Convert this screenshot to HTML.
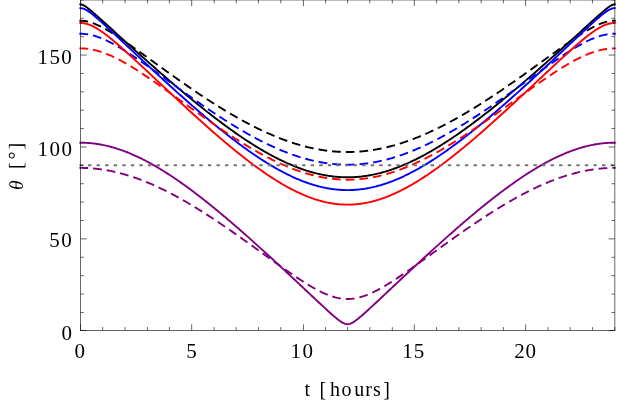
<!DOCTYPE html>
<html><head><meta charset="utf-8"><title>plot</title>
<style>
html,body{margin:0;padding:0;background:#fff;}
body{width:617px;height:403px;overflow:hidden;position:relative;}
svg{position:absolute;left:0;top:0;display:block;will-change:transform;}
text{font-family:"Liberation Serif",serif;font-size:21px;letter-spacing:0;fill:#000;}
text.lab{font-size:20px;letter-spacing:0;}
</style></head><body>
<svg width="617" height="403" viewBox="0 0 617 403">
<rect width="617" height="403" fill="#fff"/>
<g fill="none" stroke-linejoin="round">
<path d="M80.35,4.40 L81.46,4.52 L82.58,4.86 L83.69,5.38 L84.80,6.03 L85.92,6.78 L87.03,7.59 L88.14,8.45 L89.26,9.34 L90.37,10.26 L91.48,11.20 L92.60,12.15 L93.71,13.11 L94.82,14.08 L95.94,15.06 L97.05,16.04 L98.16,17.03 L99.28,18.02 L100.39,19.02 L101.50,20.02 L102.61,21.02 L103.73,22.02 L104.84,23.03 L105.95,24.03 L107.07,25.04 L108.18,26.04 L109.29,27.05 L110.41,28.06 L111.52,29.07 L112.63,30.07 L113.75,31.08 L114.86,32.09 L115.97,33.10 L117.09,34.11 L118.20,35.12 L119.31,36.13 L120.43,37.13 L121.54,38.14 L122.65,39.15 L123.77,40.16 L124.88,41.16 L125.99,42.17 L127.11,43.17 L128.22,44.18 L129.33,45.18 L130.45,46.18 L131.56,47.19 L132.67,48.19 L133.79,49.19 L134.90,50.19 L136.01,51.19 L137.13,52.19 L138.24,53.18 L139.35,54.18 L140.47,55.18 L141.58,56.17 L142.69,57.16 L143.81,58.16 L144.92,59.15 L146.03,60.14 L147.14,61.13 L148.26,62.11 L149.37,63.10 L150.48,64.09 L151.60,65.07 L152.71,66.05 L153.82,67.03 L154.94,68.01 L156.05,68.99 L157.16,69.97 L158.28,70.94 L159.39,71.92 L160.50,72.89 L161.62,73.86 L162.73,74.83 L163.84,75.80 L164.96,76.76 L166.07,77.73 L167.18,78.69 L168.30,79.65 L169.41,80.61 L170.52,81.56 L171.64,82.52 L172.75,83.47 L173.86,84.42 L174.98,85.37 L176.09,86.32 L177.20,87.26 L178.32,88.21 L179.43,89.15 L180.54,90.09 L181.66,91.02 L182.77,91.96 L183.88,92.89 L185.00,93.82 L186.11,94.75 L187.22,95.67 L188.34,96.60 L189.45,97.52 L190.56,98.44 L191.68,99.35 L192.79,100.26 L193.90,101.17 L195.01,102.08 L196.13,102.99 L197.24,103.89 L198.35,104.79 L199.47,105.69 L200.58,106.58 L201.69,107.47 L202.81,108.36 L203.92,109.24 L205.03,110.13 L206.15,111.00 L207.26,111.88 L208.37,112.75 L209.49,113.62 L210.60,114.49 L211.71,115.35 L212.83,116.21 L213.94,117.07 L215.05,117.92 L216.17,118.77 L217.28,119.62 L218.39,120.46 L219.51,121.30 L220.62,122.13 L221.73,122.96 L222.85,123.79 L223.96,124.62 L225.07,125.44 L226.19,126.25 L227.30,127.06 L228.41,127.87 L229.53,128.67 L230.64,129.47 L231.75,130.27 L232.87,131.06 L233.98,131.85 L235.09,132.63 L236.21,133.41 L237.32,134.18 L238.43,134.95 L239.54,135.71 L240.66,136.47 L241.77,137.23 L242.88,137.98 L244.00,138.72 L245.11,139.46 L246.22,140.20 L247.34,140.93 L248.45,141.65 L249.56,142.37 L250.68,143.09 L251.79,143.80 L252.90,144.50 L254.02,145.20 L255.13,145.89 L256.24,146.58 L257.36,147.26 L258.47,147.93 L259.58,148.60 L260.70,149.27 L261.81,149.93 L262.92,150.58 L264.04,151.22 L265.15,151.86 L266.26,152.50 L267.38,153.12 L268.49,153.74 L269.60,154.36 L270.72,154.97 L271.83,155.57 L272.94,156.16 L274.06,156.75 L275.17,157.33 L276.28,157.91 L277.40,158.47 L278.51,159.03 L279.62,159.59 L280.74,160.13 L281.85,160.67 L282.96,161.20 L284.07,161.73 L285.19,162.24 L286.30,162.75 L287.41,163.25 L288.53,163.75 L289.64,164.23 L290.75,164.71 L291.87,165.18 L292.98,165.64 L294.09,166.10 L295.21,166.54 L296.32,166.98 L297.43,167.41 L298.55,167.83 L299.66,168.25 L300.77,168.65 L301.89,169.05 L303.00,169.44 L304.11,169.81 L305.23,170.18 L306.34,170.55 L307.45,170.90 L308.57,171.24 L309.68,171.58 L310.79,171.90 L311.91,172.22 L313.02,172.53 L314.13,172.83 L315.25,173.12 L316.36,173.40 L317.47,173.67 L318.59,173.93 L319.70,174.18 L320.81,174.42 L321.93,174.65 L323.04,174.88 L324.15,175.09 L325.26,175.30 L326.38,175.49 L327.49,175.67 L328.60,175.85 L329.72,176.01 L330.83,176.17 L331.94,176.31 L333.06,176.45 L334.17,176.58 L335.28,176.69 L336.40,176.80 L337.51,176.89 L338.62,176.98 L339.74,177.05 L340.85,177.12 L341.96,177.17 L343.08,177.22 L344.19,177.25 L345.30,177.28 L346.42,177.29 L347.53,177.30 L348.64,177.29 L349.76,177.28 L350.87,177.25 L351.98,177.22 L353.10,177.17 L354.21,177.12 L355.32,177.05 L356.44,176.98 L357.55,176.89 L358.66,176.80 L359.78,176.69 L360.89,176.58 L362.00,176.45 L363.12,176.31 L364.23,176.17 L365.34,176.01 L366.46,175.85 L367.57,175.67 L368.68,175.49 L369.79,175.30 L370.91,175.09 L372.02,174.88 L373.13,174.65 L374.25,174.42 L375.36,174.18 L376.47,173.93 L377.59,173.67 L378.70,173.40 L379.81,173.12 L380.93,172.83 L382.04,172.53 L383.15,172.22 L384.27,171.90 L385.38,171.58 L386.49,171.24 L387.61,170.90 L388.72,170.55 L389.83,170.18 L390.95,169.81 L392.06,169.44 L393.17,169.05 L394.29,168.65 L395.40,168.25 L396.51,167.83 L397.63,167.41 L398.74,166.98 L399.85,166.54 L400.97,166.10 L402.08,165.64 L403.19,165.18 L404.31,164.71 L405.42,164.23 L406.53,163.75 L407.65,163.25 L408.76,162.75 L409.87,162.24 L410.99,161.73 L412.10,161.20 L413.21,160.67 L414.33,160.13 L415.44,159.59 L416.55,159.03 L417.66,158.47 L418.78,157.91 L419.89,157.33 L421.00,156.75 L422.12,156.16 L423.23,155.57 L424.34,154.97 L425.46,154.36 L426.57,153.74 L427.68,153.12 L428.80,152.50 L429.91,151.86 L431.02,151.22 L432.14,150.58 L433.25,149.93 L434.36,149.27 L435.48,148.60 L436.59,147.93 L437.70,147.26 L438.82,146.58 L439.93,145.89 L441.04,145.20 L442.16,144.50 L443.27,143.80 L444.38,143.09 L445.50,142.37 L446.61,141.65 L447.72,140.93 L448.84,140.20 L449.95,139.46 L451.06,138.72 L452.18,137.98 L453.29,137.23 L454.40,136.47 L455.52,135.71 L456.63,134.95 L457.74,134.18 L458.86,133.41 L459.97,132.63 L461.08,131.85 L462.19,131.06 L463.31,130.27 L464.42,129.47 L465.53,128.67 L466.65,127.87 L467.76,127.06 L468.87,126.25 L469.99,125.44 L471.10,124.62 L472.21,123.79 L473.33,122.96 L474.44,122.13 L475.55,121.30 L476.67,120.46 L477.78,119.62 L478.89,118.77 L480.01,117.92 L481.12,117.07 L482.23,116.21 L483.35,115.35 L484.46,114.49 L485.57,113.62 L486.69,112.75 L487.80,111.88 L488.91,111.00 L490.03,110.13 L491.14,109.24 L492.25,108.36 L493.37,107.47 L494.48,106.58 L495.59,105.69 L496.71,104.79 L497.82,103.89 L498.93,102.99 L500.05,102.08 L501.16,101.17 L502.27,100.26 L503.38,99.35 L504.50,98.44 L505.61,97.52 L506.72,96.60 L507.84,95.67 L508.95,94.75 L510.06,93.82 L511.18,92.89 L512.29,91.96 L513.40,91.02 L514.52,90.09 L515.63,89.15 L516.74,88.21 L517.86,87.26 L518.97,86.32 L520.08,85.37 L521.20,84.42 L522.31,83.47 L523.42,82.52 L524.54,81.56 L525.65,80.61 L526.76,79.65 L527.88,78.69 L528.99,77.73 L530.10,76.76 L531.22,75.80 L532.33,74.83 L533.44,73.86 L534.56,72.89 L535.67,71.92 L536.78,70.94 L537.90,69.97 L539.01,68.99 L540.12,68.01 L541.24,67.03 L542.35,66.05 L543.46,65.07 L544.58,64.09 L545.69,63.10 L546.80,62.11 L547.91,61.13 L549.03,60.14 L550.14,59.15 L551.25,58.16 L552.37,57.16 L553.48,56.17 L554.59,55.18 L555.71,54.18 L556.82,53.18 L557.93,52.19 L559.05,51.19 L560.16,50.19 L561.27,49.19 L562.39,48.19 L563.50,47.19 L564.61,46.18 L565.73,45.18 L566.84,44.18 L567.95,43.17 L569.07,42.17 L570.18,41.16 L571.29,40.16 L572.41,39.15 L573.52,38.14 L574.63,37.13 L575.75,36.13 L576.86,35.12 L577.97,34.11 L579.09,33.10 L580.20,32.09 L581.31,31.08 L582.43,30.07 L583.54,29.07 L584.65,28.06 L585.77,27.05 L586.88,26.04 L587.99,25.04 L589.11,24.03 L590.22,23.03 L591.33,22.02 L592.45,21.02 L593.56,20.02 L594.67,19.02 L595.78,18.02 L596.90,17.03 L598.01,16.04 L599.12,15.06 L600.24,14.08 L601.35,13.11 L602.46,12.15 L603.58,11.20 L604.69,10.26 L605.80,9.34 L606.92,8.45 L608.03,7.59 L609.14,6.78 L610.26,6.03 L611.37,5.38 L612.48,4.86 L613.60,4.52 L614.71,4.40" stroke="#000000" stroke-width="1.9" stroke-linecap="square"/>
<path d="M80.35,20.75 L81.46,20.77 L82.58,20.83 L83.69,20.93 L84.80,21.06 L85.92,21.24 L87.03,21.45 L88.14,21.69 L89.26,21.97 L90.37,22.29 L91.48,22.63 L92.60,23.01 L93.71,23.41 L94.82,23.84 L95.94,24.30 L97.05,24.78 L98.16,25.28 L99.28,25.81 L100.39,26.36 L101.50,26.92 L102.61,27.50 L103.73,28.10 L104.84,28.71 L105.95,29.34 L107.07,29.98 L108.18,30.64 L109.29,31.30 L110.41,31.98 L111.52,32.66 L112.63,33.36 L113.75,34.06 L114.86,34.78 L115.97,35.50 L117.09,36.22 L118.20,36.96 L119.31,37.70 L120.43,38.44 L121.54,39.20 L122.65,39.95 L123.77,40.71 L124.88,41.48 L125.99,42.25 L127.11,43.02 L128.22,43.79 L129.33,44.57 L130.45,45.35 L131.56,46.14 L132.67,46.93 L133.79,47.72 L134.90,48.51 L136.01,49.30 L137.13,50.09 L138.24,50.89 L139.35,51.69 L140.47,52.49 L141.58,53.29 L142.69,54.09 L143.81,54.89 L144.92,55.69 L146.03,56.50 L147.14,57.30 L148.26,58.10 L149.37,58.91 L150.48,59.71 L151.60,60.52 L152.71,61.32 L153.82,62.13 L154.94,62.93 L156.05,63.73 L157.16,64.54 L158.28,65.34 L159.39,66.14 L160.50,66.94 L161.62,67.75 L162.73,68.55 L163.84,69.35 L164.96,70.15 L166.07,70.94 L167.18,71.74 L168.30,72.54 L169.41,73.33 L170.52,74.13 L171.64,74.92 L172.75,75.71 L173.86,76.50 L174.98,77.29 L176.09,78.08 L177.20,78.86 L178.32,79.64 L179.43,80.43 L180.54,81.21 L181.66,81.99 L182.77,82.76 L183.88,83.54 L185.00,84.31 L186.11,85.09 L187.22,85.85 L188.34,86.62 L189.45,87.39 L190.56,88.15 L191.68,88.91 L192.79,89.67 L193.90,90.43 L195.01,91.18 L196.13,91.94 L197.24,92.69 L198.35,93.43 L199.47,94.18 L200.58,94.92 L201.69,95.66 L202.81,96.40 L203.92,97.13 L205.03,97.86 L206.15,98.59 L207.26,99.32 L208.37,100.04 L209.49,100.76 L210.60,101.48 L211.71,102.19 L212.83,102.90 L213.94,103.61 L215.05,104.32 L216.17,105.02 L217.28,105.72 L218.39,106.41 L219.51,107.10 L220.62,107.79 L221.73,108.48 L222.85,109.16 L223.96,109.84 L225.07,110.51 L226.19,111.18 L227.30,111.85 L228.41,112.51 L229.53,113.17 L230.64,113.83 L231.75,114.48 L232.87,115.13 L233.98,115.77 L235.09,116.41 L236.21,117.05 L237.32,117.68 L238.43,118.31 L239.54,118.93 L240.66,119.55 L241.77,120.16 L242.88,120.78 L244.00,121.38 L245.11,121.98 L246.22,122.58 L247.34,123.17 L248.45,123.76 L249.56,124.34 L250.68,124.92 L251.79,125.50 L252.90,126.07 L254.02,126.63 L255.13,127.19 L256.24,127.74 L257.36,128.29 L258.47,128.84 L259.58,129.38 L260.70,129.91 L261.81,130.44 L262.92,130.96 L264.04,131.48 L265.15,131.99 L266.26,132.50 L267.38,133.00 L268.49,133.50 L269.60,133.99 L270.72,134.48 L271.83,134.96 L272.94,135.43 L274.06,135.90 L275.17,136.36 L276.28,136.82 L277.40,137.27 L278.51,137.71 L279.62,138.15 L280.74,138.59 L281.85,139.01 L282.96,139.43 L284.07,139.85 L285.19,140.26 L286.30,140.66 L287.41,141.05 L288.53,141.44 L289.64,141.83 L290.75,142.20 L291.87,142.57 L292.98,142.94 L294.09,143.29 L295.21,143.64 L296.32,143.99 L297.43,144.32 L298.55,144.65 L299.66,144.98 L300.77,145.29 L301.89,145.60 L303.00,145.90 L304.11,146.20 L305.23,146.49 L306.34,146.77 L307.45,147.05 L308.57,147.31 L309.68,147.57 L310.79,147.83 L311.91,148.07 L313.02,148.31 L314.13,148.54 L315.25,148.77 L316.36,148.99 L317.47,149.19 L318.59,149.40 L319.70,149.59 L320.81,149.78 L321.93,149.96 L323.04,150.13 L324.15,150.30 L325.26,150.45 L326.38,150.60 L327.49,150.75 L328.60,150.88 L329.72,151.01 L330.83,151.13 L331.94,151.24 L333.06,151.35 L334.17,151.44 L335.28,151.53 L336.40,151.61 L337.51,151.69 L338.62,151.75 L339.74,151.81 L340.85,151.86 L341.96,151.90 L343.08,151.94 L344.19,151.97 L345.30,151.98 L346.42,152.00 L347.53,152.00 L348.64,152.00 L349.76,151.98 L350.87,151.97 L351.98,151.94 L353.10,151.90 L354.21,151.86 L355.32,151.81 L356.44,151.75 L357.55,151.69 L358.66,151.61 L359.78,151.53 L360.89,151.44 L362.00,151.35 L363.12,151.24 L364.23,151.13 L365.34,151.01 L366.46,150.88 L367.57,150.75 L368.68,150.60 L369.79,150.45 L370.91,150.30 L372.02,150.13 L373.13,149.96 L374.25,149.78 L375.36,149.59 L376.47,149.40 L377.59,149.19 L378.70,148.99 L379.81,148.77 L380.93,148.54 L382.04,148.31 L383.15,148.07 L384.27,147.83 L385.38,147.57 L386.49,147.31 L387.61,147.05 L388.72,146.77 L389.83,146.49 L390.95,146.20 L392.06,145.90 L393.17,145.60 L394.29,145.29 L395.40,144.98 L396.51,144.65 L397.63,144.32 L398.74,143.99 L399.85,143.64 L400.97,143.29 L402.08,142.94 L403.19,142.57 L404.31,142.20 L405.42,141.83 L406.53,141.44 L407.65,141.05 L408.76,140.66 L409.87,140.26 L410.99,139.85 L412.10,139.43 L413.21,139.01 L414.33,138.59 L415.44,138.15 L416.55,137.71 L417.66,137.27 L418.78,136.82 L419.89,136.36 L421.00,135.90 L422.12,135.43 L423.23,134.96 L424.34,134.48 L425.46,133.99 L426.57,133.50 L427.68,133.00 L428.80,132.50 L429.91,131.99 L431.02,131.48 L432.14,130.96 L433.25,130.44 L434.36,129.91 L435.48,129.38 L436.59,128.84 L437.70,128.29 L438.82,127.74 L439.93,127.19 L441.04,126.63 L442.16,126.07 L443.27,125.50 L444.38,124.92 L445.50,124.34 L446.61,123.76 L447.72,123.17 L448.84,122.58 L449.95,121.98 L451.06,121.38 L452.18,120.78 L453.29,120.16 L454.40,119.55 L455.52,118.93 L456.63,118.31 L457.74,117.68 L458.86,117.05 L459.97,116.41 L461.08,115.77 L462.19,115.13 L463.31,114.48 L464.42,113.83 L465.53,113.17 L466.65,112.51 L467.76,111.85 L468.87,111.18 L469.99,110.51 L471.10,109.84 L472.21,109.16 L473.33,108.48 L474.44,107.79 L475.55,107.10 L476.67,106.41 L477.78,105.72 L478.89,105.02 L480.01,104.32 L481.12,103.61 L482.23,102.90 L483.35,102.19 L484.46,101.48 L485.57,100.76 L486.69,100.04 L487.80,99.32 L488.91,98.59 L490.03,97.86 L491.14,97.13 L492.25,96.40 L493.37,95.66 L494.48,94.92 L495.59,94.18 L496.71,93.43 L497.82,92.69 L498.93,91.94 L500.05,91.18 L501.16,90.43 L502.27,89.67 L503.38,88.91 L504.50,88.15 L505.61,87.39 L506.72,86.62 L507.84,85.85 L508.95,85.09 L510.06,84.31 L511.18,83.54 L512.29,82.76 L513.40,81.99 L514.52,81.21 L515.63,80.43 L516.74,79.64 L517.86,78.86 L518.97,78.08 L520.08,77.29 L521.20,76.50 L522.31,75.71 L523.42,74.92 L524.54,74.13 L525.65,73.33 L526.76,72.54 L527.88,71.74 L528.99,70.94 L530.10,70.15 L531.22,69.35 L532.33,68.55 L533.44,67.75 L534.56,66.94 L535.67,66.14 L536.78,65.34 L537.90,64.54 L539.01,63.73 L540.12,62.93 L541.24,62.13 L542.35,61.32 L543.46,60.52 L544.58,59.71 L545.69,58.91 L546.80,58.10 L547.91,57.30 L549.03,56.50 L550.14,55.69 L551.25,54.89 L552.37,54.09 L553.48,53.29 L554.59,52.49 L555.71,51.69 L556.82,50.89 L557.93,50.09 L559.05,49.30 L560.16,48.51 L561.27,47.72 L562.39,46.93 L563.50,46.14 L564.61,45.35 L565.73,44.57 L566.84,43.79 L567.95,43.02 L569.07,42.25 L570.18,41.48 L571.29,40.71 L572.41,39.95 L573.52,39.20 L574.63,38.44 L575.75,37.70 L576.86,36.96 L577.97,36.22 L579.09,35.50 L580.20,34.78 L581.31,34.06 L582.43,33.36 L583.54,32.66 L584.65,31.98 L585.77,31.30 L586.88,30.64 L587.99,29.98 L589.11,29.34 L590.22,28.71 L591.33,28.10 L592.45,27.50 L593.56,26.92 L594.67,26.36 L595.78,25.81 L596.90,25.28 L598.01,24.78 L599.12,24.30 L600.24,23.84 L601.35,23.41 L602.46,23.01 L603.58,22.63 L604.69,22.29 L605.80,21.97 L606.92,21.69 L608.03,21.45 L609.14,21.24 L610.26,21.06 L611.37,20.93 L612.48,20.83 L613.60,20.77 L614.71,20.75" stroke="#000000" stroke-width="1.9" stroke-dasharray="6.85 6.86" stroke-linecap="square"/>
<path d="M80.35,8.15 L81.46,8.22 L82.58,8.43 L83.69,8.77 L84.80,9.23 L85.92,9.78 L87.03,10.42 L88.14,11.13 L89.26,11.89 L90.37,12.70 L91.48,13.55 L92.60,14.43 L93.71,15.33 L94.82,16.26 L95.94,17.20 L97.05,18.16 L98.16,19.13 L99.28,20.11 L100.39,21.10 L101.50,22.10 L102.61,23.10 L103.73,24.12 L104.84,25.13 L105.95,26.15 L107.07,27.18 L108.18,28.21 L109.29,29.24 L110.41,30.27 L111.52,31.31 L112.63,32.35 L113.75,33.39 L114.86,34.43 L115.97,35.47 L117.09,36.51 L118.20,37.56 L119.31,38.60 L120.43,39.65 L121.54,40.70 L122.65,41.75 L123.77,42.79 L124.88,43.84 L125.99,44.89 L127.11,45.94 L128.22,46.99 L129.33,48.03 L130.45,49.08 L131.56,50.13 L132.67,51.18 L133.79,52.22 L134.90,53.27 L136.01,54.32 L137.13,55.36 L138.24,56.41 L139.35,57.45 L140.47,58.50 L141.58,59.54 L142.69,60.58 L143.81,61.62 L144.92,62.67 L146.03,63.71 L147.14,64.74 L148.26,65.78 L149.37,66.82 L150.48,67.86 L151.60,68.89 L152.71,69.93 L153.82,70.96 L154.94,71.99 L156.05,73.02 L157.16,74.05 L158.28,75.08 L159.39,76.11 L160.50,77.13 L161.62,78.16 L162.73,79.18 L163.84,80.20 L164.96,81.22 L166.07,82.24 L167.18,83.26 L168.30,84.27 L169.41,85.29 L170.52,86.30 L171.64,87.31 L172.75,88.32 L173.86,89.33 L174.98,90.33 L176.09,91.34 L177.20,92.34 L178.32,93.34 L179.43,94.34 L180.54,95.33 L181.66,96.33 L182.77,97.32 L183.88,98.31 L185.00,99.30 L186.11,100.28 L187.22,101.27 L188.34,102.25 L189.45,103.23 L190.56,104.20 L191.68,105.18 L192.79,106.15 L193.90,107.12 L195.01,108.09 L196.13,109.05 L197.24,110.01 L198.35,110.97 L199.47,111.93 L200.58,112.89 L201.69,113.84 L202.81,114.79 L203.92,115.73 L205.03,116.68 L206.15,117.62 L207.26,118.55 L208.37,119.49 L209.49,120.42 L210.60,121.35 L211.71,122.27 L212.83,123.19 L213.94,124.11 L215.05,125.03 L216.17,125.94 L217.28,126.85 L218.39,127.75 L219.51,128.65 L220.62,129.55 L221.73,130.44 L222.85,131.33 L223.96,132.22 L225.07,133.10 L226.19,133.98 L227.30,134.86 L228.41,135.73 L229.53,136.60 L230.64,137.46 L231.75,138.32 L232.87,139.17 L233.98,140.02 L235.09,140.87 L236.21,141.71 L237.32,142.55 L238.43,143.38 L239.54,144.21 L240.66,145.03 L241.77,145.85 L242.88,146.67 L244.00,147.47 L245.11,148.28 L246.22,149.08 L247.34,149.87 L248.45,150.66 L249.56,151.44 L250.68,152.22 L251.79,152.99 L252.90,153.76 L254.02,154.52 L255.13,155.28 L256.24,156.03 L257.36,156.77 L258.47,157.51 L259.58,158.25 L260.70,158.97 L261.81,159.69 L262.92,160.41 L264.04,161.11 L265.15,161.82 L266.26,162.51 L267.38,163.20 L268.49,163.88 L269.60,164.56 L270.72,165.23 L271.83,165.89 L272.94,166.54 L274.06,167.19 L275.17,167.83 L276.28,168.47 L277.40,169.09 L278.51,169.71 L279.62,170.32 L280.74,170.92 L281.85,171.52 L282.96,172.11 L284.07,172.69 L285.19,173.26 L286.30,173.83 L287.41,174.38 L288.53,174.93 L289.64,175.47 L290.75,176.00 L291.87,176.52 L292.98,177.04 L294.09,177.54 L295.21,178.04 L296.32,178.53 L297.43,179.01 L298.55,179.48 L299.66,179.94 L300.77,180.39 L301.89,180.83 L303.00,181.27 L304.11,181.69 L305.23,182.10 L306.34,182.51 L307.45,182.90 L308.57,183.29 L309.68,183.66 L310.79,184.03 L311.91,184.38 L313.02,184.73 L314.13,185.06 L315.25,185.39 L316.36,185.70 L317.47,186.01 L318.59,186.30 L319.70,186.58 L320.81,186.86 L321.93,187.12 L323.04,187.37 L324.15,187.61 L325.26,187.84 L326.38,188.06 L327.49,188.27 L328.60,188.46 L329.72,188.65 L330.83,188.82 L331.94,188.99 L333.06,189.14 L334.17,189.28 L335.28,189.41 L336.40,189.53 L337.51,189.64 L338.62,189.74 L339.74,189.82 L340.85,189.89 L341.96,189.96 L343.08,190.01 L344.19,190.05 L345.30,190.08 L346.42,190.09 L347.53,190.10 L348.64,190.09 L349.76,190.08 L350.87,190.05 L351.98,190.01 L353.10,189.96 L354.21,189.89 L355.32,189.82 L356.44,189.74 L357.55,189.64 L358.66,189.53 L359.78,189.41 L360.89,189.28 L362.00,189.14 L363.12,188.99 L364.23,188.82 L365.34,188.65 L366.46,188.46 L367.57,188.27 L368.68,188.06 L369.79,187.84 L370.91,187.61 L372.02,187.37 L373.13,187.12 L374.25,186.86 L375.36,186.58 L376.47,186.30 L377.59,186.01 L378.70,185.70 L379.81,185.39 L380.93,185.06 L382.04,184.73 L383.15,184.38 L384.27,184.03 L385.38,183.66 L386.49,183.29 L387.61,182.90 L388.72,182.51 L389.83,182.10 L390.95,181.69 L392.06,181.27 L393.17,180.83 L394.29,180.39 L395.40,179.94 L396.51,179.48 L397.63,179.01 L398.74,178.53 L399.85,178.04 L400.97,177.54 L402.08,177.04 L403.19,176.52 L404.31,176.00 L405.42,175.47 L406.53,174.93 L407.65,174.38 L408.76,173.83 L409.87,173.26 L410.99,172.69 L412.10,172.11 L413.21,171.52 L414.33,170.92 L415.44,170.32 L416.55,169.71 L417.66,169.09 L418.78,168.47 L419.89,167.83 L421.00,167.19 L422.12,166.54 L423.23,165.89 L424.34,165.23 L425.46,164.56 L426.57,163.88 L427.68,163.20 L428.80,162.51 L429.91,161.82 L431.02,161.11 L432.14,160.41 L433.25,159.69 L434.36,158.97 L435.48,158.25 L436.59,157.51 L437.70,156.77 L438.82,156.03 L439.93,155.28 L441.04,154.52 L442.16,153.76 L443.27,152.99 L444.38,152.22 L445.50,151.44 L446.61,150.66 L447.72,149.87 L448.84,149.08 L449.95,148.28 L451.06,147.47 L452.18,146.67 L453.29,145.85 L454.40,145.03 L455.52,144.21 L456.63,143.38 L457.74,142.55 L458.86,141.71 L459.97,140.87 L461.08,140.02 L462.19,139.17 L463.31,138.32 L464.42,137.46 L465.53,136.60 L466.65,135.73 L467.76,134.86 L468.87,133.98 L469.99,133.10 L471.10,132.22 L472.21,131.33 L473.33,130.44 L474.44,129.55 L475.55,128.65 L476.67,127.75 L477.78,126.85 L478.89,125.94 L480.01,125.03 L481.12,124.11 L482.23,123.19 L483.35,122.27 L484.46,121.35 L485.57,120.42 L486.69,119.49 L487.80,118.55 L488.91,117.62 L490.03,116.68 L491.14,115.73 L492.25,114.79 L493.37,113.84 L494.48,112.89 L495.59,111.93 L496.71,110.97 L497.82,110.01 L498.93,109.05 L500.05,108.09 L501.16,107.12 L502.27,106.15 L503.38,105.18 L504.50,104.20 L505.61,103.23 L506.72,102.25 L507.84,101.27 L508.95,100.28 L510.06,99.30 L511.18,98.31 L512.29,97.32 L513.40,96.33 L514.52,95.33 L515.63,94.34 L516.74,93.34 L517.86,92.34 L518.97,91.34 L520.08,90.33 L521.20,89.33 L522.31,88.32 L523.42,87.31 L524.54,86.30 L525.65,85.29 L526.76,84.27 L527.88,83.26 L528.99,82.24 L530.10,81.22 L531.22,80.20 L532.33,79.18 L533.44,78.16 L534.56,77.13 L535.67,76.11 L536.78,75.08 L537.90,74.05 L539.01,73.02 L540.12,71.99 L541.24,70.96 L542.35,69.93 L543.46,68.89 L544.58,67.86 L545.69,66.82 L546.80,65.78 L547.91,64.74 L549.03,63.71 L550.14,62.67 L551.25,61.62 L552.37,60.58 L553.48,59.54 L554.59,58.50 L555.71,57.45 L556.82,56.41 L557.93,55.36 L559.05,54.32 L560.16,53.27 L561.27,52.22 L562.39,51.18 L563.50,50.13 L564.61,49.08 L565.73,48.03 L566.84,46.99 L567.95,45.94 L569.07,44.89 L570.18,43.84 L571.29,42.79 L572.41,41.75 L573.52,40.70 L574.63,39.65 L575.75,38.60 L576.86,37.56 L577.97,36.51 L579.09,35.47 L580.20,34.43 L581.31,33.39 L582.43,32.35 L583.54,31.31 L584.65,30.27 L585.77,29.24 L586.88,28.21 L587.99,27.18 L589.11,26.15 L590.22,25.13 L591.33,24.12 L592.45,23.10 L593.56,22.10 L594.67,21.10 L595.78,20.11 L596.90,19.13 L598.01,18.16 L599.12,17.20 L600.24,16.26 L601.35,15.33 L602.46,14.43 L603.58,13.55 L604.69,12.70 L605.80,11.89 L606.92,11.13 L608.03,10.42 L609.14,9.78 L610.26,9.23 L611.37,8.77 L612.48,8.43 L613.60,8.22 L614.71,8.15" stroke="#0000ff" stroke-width="1.9" stroke-linecap="square"/>
<path d="M80.35,33.75 L81.46,33.76 L82.58,33.80 L83.69,33.87 L84.80,33.97 L85.92,34.09 L87.03,34.23 L88.14,34.40 L89.26,34.60 L90.37,34.83 L91.48,35.07 L92.60,35.34 L93.71,35.64 L94.82,35.96 L95.94,36.30 L97.05,36.66 L98.16,37.04 L99.28,37.44 L100.39,37.86 L101.50,38.30 L102.61,38.76 L103.73,39.24 L104.84,39.73 L105.95,40.24 L107.07,40.76 L108.18,41.30 L109.29,41.86 L110.41,42.42 L111.52,43.00 L112.63,43.60 L113.75,44.20 L114.86,44.82 L115.97,45.44 L117.09,46.08 L118.20,46.73 L119.31,47.38 L120.43,48.05 L121.54,48.72 L122.65,49.40 L123.77,50.09 L124.88,50.79 L125.99,51.49 L127.11,52.20 L128.22,52.92 L129.33,53.64 L130.45,54.37 L131.56,55.11 L132.67,55.84 L133.79,56.59 L134.90,57.34 L136.01,58.09 L137.13,58.85 L138.24,59.61 L139.35,60.37 L140.47,61.14 L141.58,61.91 L142.69,62.68 L143.81,63.46 L144.92,64.24 L146.03,65.02 L147.14,65.80 L148.26,66.59 L149.37,67.38 L150.48,68.17 L151.60,68.96 L152.71,69.75 L153.82,70.55 L154.94,71.34 L156.05,72.14 L157.16,72.94 L158.28,73.74 L159.39,74.54 L160.50,75.34 L161.62,76.14 L162.73,76.94 L163.84,77.75 L164.96,78.55 L166.07,79.35 L167.18,80.15 L168.30,80.96 L169.41,81.76 L170.52,82.56 L171.64,83.36 L172.75,84.17 L173.86,84.97 L174.98,85.77 L176.09,86.57 L177.20,87.37 L178.32,88.17 L179.43,88.97 L180.54,89.76 L181.66,90.56 L182.77,91.36 L183.88,92.15 L185.00,92.94 L186.11,93.74 L187.22,94.53 L188.34,95.32 L189.45,96.10 L190.56,96.89 L191.68,97.68 L192.79,98.46 L193.90,99.24 L195.01,100.02 L196.13,100.80 L197.24,101.57 L198.35,102.35 L199.47,103.12 L200.58,103.89 L201.69,104.66 L202.81,105.42 L203.92,106.19 L205.03,106.95 L206.15,107.71 L207.26,108.46 L208.37,109.22 L209.49,109.97 L210.60,110.72 L211.71,111.46 L212.83,112.21 L213.94,112.95 L215.05,113.69 L216.17,114.42 L217.28,115.15 L218.39,115.88 L219.51,116.61 L220.62,117.33 L221.73,118.05 L222.85,118.77 L223.96,119.48 L225.07,120.19 L226.19,120.90 L227.30,121.60 L228.41,122.30 L229.53,123.00 L230.64,123.69 L231.75,124.38 L232.87,125.06 L233.98,125.74 L235.09,126.42 L236.21,127.09 L237.32,127.76 L238.43,128.43 L239.54,129.09 L240.66,129.74 L241.77,130.40 L242.88,131.05 L244.00,131.69 L245.11,132.33 L246.22,132.96 L247.34,133.60 L248.45,134.22 L249.56,134.84 L250.68,135.46 L251.79,136.07 L252.90,136.68 L254.02,137.28 L255.13,137.88 L256.24,138.47 L257.36,139.06 L258.47,139.64 L259.58,140.22 L260.70,140.79 L261.81,141.36 L262.92,141.92 L264.04,142.47 L265.15,143.02 L266.26,143.57 L267.38,144.11 L268.49,144.64 L269.60,145.17 L270.72,145.69 L271.83,146.21 L272.94,146.72 L274.06,147.22 L275.17,147.72 L276.28,148.21 L277.40,148.70 L278.51,149.18 L279.62,149.65 L280.74,150.12 L281.85,150.58 L282.96,151.03 L284.07,151.48 L285.19,151.92 L286.30,152.36 L287.41,152.78 L288.53,153.21 L289.64,153.62 L290.75,154.03 L291.87,154.43 L292.98,154.82 L294.09,155.21 L295.21,155.59 L296.32,155.96 L297.43,156.33 L298.55,156.69 L299.66,157.04 L300.77,157.38 L301.89,157.72 L303.00,158.05 L304.11,158.37 L305.23,158.68 L306.34,158.99 L307.45,159.29 L308.57,159.58 L309.68,159.87 L310.79,160.14 L311.91,160.41 L313.02,160.67 L314.13,160.92 L315.25,161.17 L316.36,161.40 L317.47,161.63 L318.59,161.85 L319.70,162.07 L320.81,162.27 L321.93,162.47 L323.04,162.66 L324.15,162.84 L325.26,163.01 L326.38,163.17 L327.49,163.33 L328.60,163.48 L329.72,163.62 L330.83,163.75 L331.94,163.87 L333.06,163.98 L334.17,164.09 L335.28,164.19 L336.40,164.28 L337.51,164.36 L338.62,164.43 L339.74,164.49 L340.85,164.55 L341.96,164.59 L343.08,164.63 L344.19,164.66 L345.30,164.68 L346.42,164.70 L347.53,164.70 L348.64,164.70 L349.76,164.68 L350.87,164.66 L351.98,164.63 L353.10,164.59 L354.21,164.55 L355.32,164.49 L356.44,164.43 L357.55,164.36 L358.66,164.28 L359.78,164.19 L360.89,164.09 L362.00,163.98 L363.12,163.87 L364.23,163.75 L365.34,163.62 L366.46,163.48 L367.57,163.33 L368.68,163.17 L369.79,163.01 L370.91,162.84 L372.02,162.66 L373.13,162.47 L374.25,162.27 L375.36,162.07 L376.47,161.85 L377.59,161.63 L378.70,161.40 L379.81,161.17 L380.93,160.92 L382.04,160.67 L383.15,160.41 L384.27,160.14 L385.38,159.87 L386.49,159.58 L387.61,159.29 L388.72,158.99 L389.83,158.68 L390.95,158.37 L392.06,158.05 L393.17,157.72 L394.29,157.38 L395.40,157.04 L396.51,156.69 L397.63,156.33 L398.74,155.96 L399.85,155.59 L400.97,155.21 L402.08,154.82 L403.19,154.43 L404.31,154.03 L405.42,153.62 L406.53,153.21 L407.65,152.78 L408.76,152.36 L409.87,151.92 L410.99,151.48 L412.10,151.03 L413.21,150.58 L414.33,150.12 L415.44,149.65 L416.55,149.18 L417.66,148.70 L418.78,148.21 L419.89,147.72 L421.00,147.22 L422.12,146.72 L423.23,146.21 L424.34,145.69 L425.46,145.17 L426.57,144.64 L427.68,144.11 L428.80,143.57 L429.91,143.02 L431.02,142.47 L432.14,141.92 L433.25,141.36 L434.36,140.79 L435.48,140.22 L436.59,139.64 L437.70,139.06 L438.82,138.47 L439.93,137.88 L441.04,137.28 L442.16,136.68 L443.27,136.07 L444.38,135.46 L445.50,134.84 L446.61,134.22 L447.72,133.60 L448.84,132.96 L449.95,132.33 L451.06,131.69 L452.18,131.05 L453.29,130.40 L454.40,129.74 L455.52,129.09 L456.63,128.43 L457.74,127.76 L458.86,127.09 L459.97,126.42 L461.08,125.74 L462.19,125.06 L463.31,124.38 L464.42,123.69 L465.53,123.00 L466.65,122.30 L467.76,121.60 L468.87,120.90 L469.99,120.19 L471.10,119.48 L472.21,118.77 L473.33,118.05 L474.44,117.33 L475.55,116.61 L476.67,115.88 L477.78,115.15 L478.89,114.42 L480.01,113.69 L481.12,112.95 L482.23,112.21 L483.35,111.46 L484.46,110.72 L485.57,109.97 L486.69,109.22 L487.80,108.46 L488.91,107.71 L490.03,106.95 L491.14,106.19 L492.25,105.42 L493.37,104.66 L494.48,103.89 L495.59,103.12 L496.71,102.35 L497.82,101.57 L498.93,100.80 L500.05,100.02 L501.16,99.24 L502.27,98.46 L503.38,97.68 L504.50,96.89 L505.61,96.10 L506.72,95.32 L507.84,94.53 L508.95,93.74 L510.06,92.94 L511.18,92.15 L512.29,91.36 L513.40,90.56 L514.52,89.76 L515.63,88.97 L516.74,88.17 L517.86,87.37 L518.97,86.57 L520.08,85.77 L521.20,84.97 L522.31,84.17 L523.42,83.36 L524.54,82.56 L525.65,81.76 L526.76,80.96 L527.88,80.15 L528.99,79.35 L530.10,78.55 L531.22,77.75 L532.33,76.94 L533.44,76.14 L534.56,75.34 L535.67,74.54 L536.78,73.74 L537.90,72.94 L539.01,72.14 L540.12,71.34 L541.24,70.55 L542.35,69.75 L543.46,68.96 L544.58,68.17 L545.69,67.38 L546.80,66.59 L547.91,65.80 L549.03,65.02 L550.14,64.24 L551.25,63.46 L552.37,62.68 L553.48,61.91 L554.59,61.14 L555.71,60.37 L556.82,59.61 L557.93,58.85 L559.05,58.09 L560.16,57.34 L561.27,56.59 L562.39,55.84 L563.50,55.11 L564.61,54.37 L565.73,53.64 L566.84,52.92 L567.95,52.20 L569.07,51.49 L570.18,50.79 L571.29,50.09 L572.41,49.40 L573.52,48.72 L574.63,48.05 L575.75,47.38 L576.86,46.73 L577.97,46.08 L579.09,45.44 L580.20,44.82 L581.31,44.20 L582.43,43.60 L583.54,43.00 L584.65,42.42 L585.77,41.86 L586.88,41.30 L587.99,40.76 L589.11,40.24 L590.22,39.73 L591.33,39.24 L592.45,38.76 L593.56,38.30 L594.67,37.86 L595.78,37.44 L596.90,37.04 L598.01,36.66 L599.12,36.30 L600.24,35.96 L601.35,35.64 L602.46,35.34 L603.58,35.07 L604.69,34.83 L605.80,34.60 L606.92,34.40 L608.03,34.23 L609.14,34.09 L610.26,33.97 L611.37,33.87 L612.48,33.80 L613.60,33.76 L614.71,33.75" stroke="#0000ff" stroke-width="1.9" stroke-dasharray="6.85 6.86" stroke-linecap="square"/>
<path d="M80.35,23.00 L81.46,23.03 L82.58,23.11 L83.69,23.25 L84.80,23.44 L85.92,23.69 L87.03,23.98 L88.14,24.33 L89.26,24.72 L90.37,25.16 L91.48,25.64 L92.60,26.16 L93.71,26.72 L94.82,27.31 L95.94,27.94 L97.05,28.60 L98.16,29.28 L99.28,30.00 L100.39,30.74 L101.50,31.50 L102.61,32.28 L103.73,33.08 L104.84,33.90 L105.95,34.74 L107.07,35.59 L108.18,36.46 L109.29,37.35 L110.41,38.24 L111.52,39.15 L112.63,40.06 L113.75,40.99 L114.86,41.93 L115.97,42.87 L117.09,43.83 L118.20,44.79 L119.31,45.75 L120.43,46.73 L121.54,47.71 L122.65,48.69 L123.77,49.69 L124.88,50.68 L125.99,51.68 L127.11,52.69 L128.22,53.69 L129.33,54.71 L130.45,55.72 L131.56,56.74 L132.67,57.76 L133.79,58.79 L134.90,59.81 L136.01,60.84 L137.13,61.87 L138.24,62.91 L139.35,63.94 L140.47,64.98 L141.58,66.01 L142.69,67.05 L143.81,68.09 L144.92,69.14 L146.03,70.18 L147.14,71.22 L148.26,72.27 L149.37,73.31 L150.48,74.36 L151.60,75.40 L152.71,76.45 L153.82,77.49 L154.94,78.54 L156.05,79.59 L157.16,80.64 L158.28,81.68 L159.39,82.73 L160.50,83.78 L161.62,84.82 L162.73,85.87 L163.84,86.91 L164.96,87.96 L166.07,89.00 L167.18,90.05 L168.30,91.09 L169.41,92.13 L170.52,93.18 L171.64,94.22 L172.75,95.26 L173.86,96.30 L174.98,97.34 L176.09,98.37 L177.20,99.41 L178.32,100.44 L179.43,101.48 L180.54,102.51 L181.66,103.54 L182.77,104.57 L183.88,105.60 L185.00,106.63 L186.11,107.66 L187.22,108.68 L188.34,109.70 L189.45,110.72 L190.56,111.74 L191.68,112.76 L192.79,113.78 L193.90,114.79 L195.01,115.80 L196.13,116.81 L197.24,117.82 L198.35,118.83 L199.47,119.83 L200.58,120.83 L201.69,121.83 L202.81,122.83 L203.92,123.82 L205.03,124.82 L206.15,125.81 L207.26,126.80 L208.37,127.78 L209.49,128.76 L210.60,129.74 L211.71,130.72 L212.83,131.69 L213.94,132.67 L215.05,133.64 L216.17,134.60 L217.28,135.56 L218.39,136.52 L219.51,137.48 L220.62,138.43 L221.73,139.38 L222.85,140.33 L223.96,141.27 L225.07,142.21 L226.19,143.15 L227.30,144.08 L228.41,145.01 L229.53,145.94 L230.64,146.86 L231.75,147.78 L232.87,148.69 L233.98,149.60 L235.09,150.51 L236.21,151.41 L237.32,152.31 L238.43,153.21 L239.54,154.09 L240.66,154.98 L241.77,155.86 L242.88,156.74 L244.00,157.61 L245.11,158.47 L246.22,159.34 L247.34,160.19 L248.45,161.04 L249.56,161.89 L250.68,162.73 L251.79,163.57 L252.90,164.40 L254.02,165.23 L255.13,166.05 L256.24,166.86 L257.36,167.67 L258.47,168.47 L259.58,169.27 L260.70,170.06 L261.81,170.85 L262.92,171.63 L264.04,172.40 L265.15,173.16 L266.26,173.92 L267.38,174.68 L268.49,175.42 L269.60,176.16 L270.72,176.90 L271.83,177.62 L272.94,178.34 L274.06,179.05 L275.17,179.76 L276.28,180.46 L277.40,181.15 L278.51,181.83 L279.62,182.50 L280.74,183.17 L281.85,183.83 L282.96,184.48 L284.07,185.12 L285.19,185.75 L286.30,186.38 L287.41,187.00 L288.53,187.60 L289.64,188.20 L290.75,188.79 L291.87,189.38 L292.98,189.95 L294.09,190.51 L295.21,191.07 L296.32,191.61 L297.43,192.14 L298.55,192.67 L299.66,193.19 L300.77,193.69 L301.89,194.19 L303.00,194.67 L304.11,195.15 L305.23,195.61 L306.34,196.07 L307.45,196.51 L308.57,196.94 L309.68,197.36 L310.79,197.78 L311.91,198.18 L313.02,198.56 L314.13,198.94 L315.25,199.31 L316.36,199.66 L317.47,200.01 L318.59,200.34 L319.70,200.66 L320.81,200.97 L321.93,201.26 L323.04,201.55 L324.15,201.82 L325.26,202.08 L326.38,202.33 L327.49,202.57 L328.60,202.79 L329.72,203.00 L330.83,203.20 L331.94,203.38 L333.06,203.56 L334.17,203.72 L335.28,203.87 L336.40,204.00 L337.51,204.13 L338.62,204.24 L339.74,204.33 L340.85,204.42 L341.96,204.49 L343.08,204.55 L344.19,204.59 L345.30,204.62 L346.42,204.64 L347.53,204.65 L348.64,204.64 L349.76,204.62 L350.87,204.59 L351.98,204.55 L353.10,204.49 L354.21,204.42 L355.32,204.33 L356.44,204.24 L357.55,204.13 L358.66,204.00 L359.78,203.87 L360.89,203.72 L362.00,203.56 L363.12,203.38 L364.23,203.20 L365.34,203.00 L366.46,202.79 L367.57,202.57 L368.68,202.33 L369.79,202.08 L370.91,201.82 L372.02,201.55 L373.13,201.26 L374.25,200.97 L375.36,200.66 L376.47,200.34 L377.59,200.01 L378.70,199.66 L379.81,199.31 L380.93,198.94 L382.04,198.56 L383.15,198.18 L384.27,197.78 L385.38,197.36 L386.49,196.94 L387.61,196.51 L388.72,196.07 L389.83,195.61 L390.95,195.15 L392.06,194.67 L393.17,194.19 L394.29,193.69 L395.40,193.19 L396.51,192.67 L397.63,192.14 L398.74,191.61 L399.85,191.07 L400.97,190.51 L402.08,189.95 L403.19,189.38 L404.31,188.79 L405.42,188.20 L406.53,187.60 L407.65,187.00 L408.76,186.38 L409.87,185.75 L410.99,185.12 L412.10,184.48 L413.21,183.83 L414.33,183.17 L415.44,182.50 L416.55,181.83 L417.66,181.15 L418.78,180.46 L419.89,179.76 L421.00,179.05 L422.12,178.34 L423.23,177.62 L424.34,176.90 L425.46,176.16 L426.57,175.42 L427.68,174.68 L428.80,173.92 L429.91,173.16 L431.02,172.40 L432.14,171.63 L433.25,170.85 L434.36,170.06 L435.48,169.27 L436.59,168.47 L437.70,167.67 L438.82,166.86 L439.93,166.05 L441.04,165.23 L442.16,164.40 L443.27,163.57 L444.38,162.73 L445.50,161.89 L446.61,161.04 L447.72,160.19 L448.84,159.34 L449.95,158.47 L451.06,157.61 L452.18,156.74 L453.29,155.86 L454.40,154.98 L455.52,154.09 L456.63,153.21 L457.74,152.31 L458.86,151.41 L459.97,150.51 L461.08,149.60 L462.19,148.69 L463.31,147.78 L464.42,146.86 L465.53,145.94 L466.65,145.01 L467.76,144.08 L468.87,143.15 L469.99,142.21 L471.10,141.27 L472.21,140.33 L473.33,139.38 L474.44,138.43 L475.55,137.48 L476.67,136.52 L477.78,135.56 L478.89,134.60 L480.01,133.64 L481.12,132.67 L482.23,131.69 L483.35,130.72 L484.46,129.74 L485.57,128.76 L486.69,127.78 L487.80,126.80 L488.91,125.81 L490.03,124.82 L491.14,123.82 L492.25,122.83 L493.37,121.83 L494.48,120.83 L495.59,119.83 L496.71,118.83 L497.82,117.82 L498.93,116.81 L500.05,115.80 L501.16,114.79 L502.27,113.78 L503.38,112.76 L504.50,111.74 L505.61,110.72 L506.72,109.70 L507.84,108.68 L508.95,107.66 L510.06,106.63 L511.18,105.60 L512.29,104.57 L513.40,103.54 L514.52,102.51 L515.63,101.48 L516.74,100.44 L517.86,99.41 L518.97,98.37 L520.08,97.34 L521.20,96.30 L522.31,95.26 L523.42,94.22 L524.54,93.18 L525.65,92.13 L526.76,91.09 L527.88,90.05 L528.99,89.00 L530.10,87.96 L531.22,86.91 L532.33,85.87 L533.44,84.82 L534.56,83.78 L535.67,82.73 L536.78,81.68 L537.90,80.64 L539.01,79.59 L540.12,78.54 L541.24,77.49 L542.35,76.45 L543.46,75.40 L544.58,74.36 L545.69,73.31 L546.80,72.27 L547.91,71.22 L549.03,70.18 L550.14,69.14 L551.25,68.09 L552.37,67.05 L553.48,66.01 L554.59,64.98 L555.71,63.94 L556.82,62.91 L557.93,61.87 L559.05,60.84 L560.16,59.81 L561.27,58.79 L562.39,57.76 L563.50,56.74 L564.61,55.72 L565.73,54.71 L566.84,53.69 L567.95,52.69 L569.07,51.68 L570.18,50.68 L571.29,49.69 L572.41,48.69 L573.52,47.71 L574.63,46.73 L575.75,45.75 L576.86,44.79 L577.97,43.83 L579.09,42.87 L580.20,41.93 L581.31,40.99 L582.43,40.06 L583.54,39.15 L584.65,38.24 L585.77,37.35 L586.88,36.46 L587.99,35.59 L589.11,34.74 L590.22,33.90 L591.33,33.08 L592.45,32.28 L593.56,31.50 L594.67,30.74 L595.78,30.00 L596.90,29.28 L598.01,28.60 L599.12,27.94 L600.24,27.31 L601.35,26.72 L602.46,26.16 L603.58,25.64 L604.69,25.16 L605.80,24.72 L606.92,24.33 L608.03,23.98 L609.14,23.69 L610.26,23.44 L611.37,23.25 L612.48,23.11 L613.60,23.03 L614.71,23.00" stroke="#ff0000" stroke-width="1.9" stroke-linecap="square"/>
<path d="M80.35,48.40 L81.46,48.41 L82.58,48.44 L83.69,48.49 L84.80,48.57 L85.92,48.66 L87.03,48.78 L88.14,48.91 L89.26,49.07 L90.37,49.24 L91.48,49.44 L92.60,49.65 L93.71,49.89 L94.82,50.14 L95.94,50.41 L97.05,50.70 L98.16,51.01 L99.28,51.34 L100.39,51.68 L101.50,52.04 L102.61,52.42 L103.73,52.81 L104.84,53.22 L105.95,53.65 L107.07,54.09 L108.18,54.54 L109.29,55.01 L110.41,55.49 L111.52,55.99 L112.63,56.50 L113.75,57.02 L114.86,57.55 L115.97,58.10 L117.09,58.66 L118.20,59.23 L119.31,59.81 L120.43,60.40 L121.54,61.00 L122.65,61.61 L123.77,62.22 L124.88,62.85 L125.99,63.49 L127.11,64.14 L128.22,64.79 L129.33,65.45 L130.45,66.12 L131.56,66.80 L132.67,67.48 L133.79,68.17 L134.90,68.86 L136.01,69.57 L137.13,70.28 L138.24,70.99 L139.35,71.71 L140.47,72.43 L141.58,73.16 L142.69,73.90 L143.81,74.64 L144.92,75.38 L146.03,76.13 L147.14,76.88 L148.26,77.64 L149.37,78.40 L150.48,79.16 L151.60,79.93 L152.71,80.69 L153.82,81.47 L154.94,82.24 L156.05,83.02 L157.16,83.80 L158.28,84.58 L159.39,85.37 L160.50,86.16 L161.62,86.94 L162.73,87.74 L163.84,88.53 L164.96,89.32 L166.07,90.12 L167.18,90.91 L168.30,91.71 L169.41,92.51 L170.52,93.31 L171.64,94.11 L172.75,94.92 L173.86,95.72 L174.98,96.52 L176.09,97.33 L177.20,98.13 L178.32,98.93 L179.43,99.74 L180.54,100.54 L181.66,101.35 L182.77,102.15 L183.88,102.96 L185.00,103.76 L186.11,104.57 L187.22,105.37 L188.34,106.17 L189.45,106.97 L190.56,107.78 L191.68,108.58 L192.79,109.38 L193.90,110.18 L195.01,110.97 L196.13,111.77 L197.24,112.57 L198.35,113.36 L199.47,114.16 L200.58,114.95 L201.69,115.74 L202.81,116.53 L203.92,117.31 L205.03,118.10 L206.15,118.88 L207.26,119.67 L208.37,120.45 L209.49,121.23 L210.60,122.00 L211.71,122.78 L212.83,123.55 L213.94,124.32 L215.05,125.09 L216.17,125.85 L217.28,126.61 L218.39,127.37 L219.51,128.13 L220.62,128.89 L221.73,129.64 L222.85,130.39 L223.96,131.13 L225.07,131.88 L226.19,132.62 L227.30,133.36 L228.41,134.09 L229.53,134.82 L230.64,135.55 L231.75,136.27 L232.87,136.99 L233.98,137.71 L235.09,138.43 L236.21,139.14 L237.32,139.84 L238.43,140.55 L239.54,141.25 L240.66,141.94 L241.77,142.63 L242.88,143.32 L244.00,144.00 L245.11,144.68 L246.22,145.36 L247.34,146.03 L248.45,146.69 L249.56,147.35 L250.68,148.01 L251.79,148.66 L252.90,149.31 L254.02,149.95 L255.13,150.59 L256.24,151.22 L257.36,151.85 L258.47,152.47 L259.58,153.09 L260.70,153.70 L261.81,154.31 L262.92,154.91 L264.04,155.51 L265.15,156.10 L266.26,156.69 L267.38,157.26 L268.49,157.84 L269.60,158.41 L270.72,158.97 L271.83,159.53 L272.94,160.08 L274.06,160.62 L275.17,161.16 L276.28,161.69 L277.40,162.21 L278.51,162.73 L279.62,163.25 L280.74,163.75 L281.85,164.25 L282.96,164.74 L284.07,165.23 L285.19,165.71 L286.30,166.18 L287.41,166.65 L288.53,167.10 L289.64,167.56 L290.75,168.00 L291.87,168.44 L292.98,168.87 L294.09,169.29 L295.21,169.70 L296.32,170.11 L297.43,170.51 L298.55,170.90 L299.66,171.28 L300.77,171.66 L301.89,172.03 L303.00,172.39 L304.11,172.74 L305.23,173.08 L306.34,173.42 L307.45,173.75 L308.57,174.07 L309.68,174.38 L310.79,174.68 L311.91,174.97 L313.02,175.26 L314.13,175.54 L315.25,175.81 L316.36,176.07 L317.47,176.32 L318.59,176.56 L319.70,176.80 L320.81,177.02 L321.93,177.24 L323.04,177.45 L324.15,177.65 L325.26,177.83 L326.38,178.02 L327.49,178.19 L328.60,178.35 L329.72,178.50 L330.83,178.65 L331.94,178.78 L333.06,178.91 L334.17,179.03 L335.28,179.13 L336.40,179.23 L337.51,179.32 L338.62,179.40 L339.74,179.47 L340.85,179.53 L341.96,179.58 L343.08,179.62 L344.19,179.66 L345.30,179.68 L346.42,179.70 L347.53,179.70 L348.64,179.70 L349.76,179.68 L350.87,179.66 L351.98,179.62 L353.10,179.58 L354.21,179.53 L355.32,179.47 L356.44,179.40 L357.55,179.32 L358.66,179.23 L359.78,179.13 L360.89,179.03 L362.00,178.91 L363.12,178.78 L364.23,178.65 L365.34,178.50 L366.46,178.35 L367.57,178.19 L368.68,178.02 L369.79,177.83 L370.91,177.65 L372.02,177.45 L373.13,177.24 L374.25,177.02 L375.36,176.80 L376.47,176.56 L377.59,176.32 L378.70,176.07 L379.81,175.81 L380.93,175.54 L382.04,175.26 L383.15,174.97 L384.27,174.68 L385.38,174.38 L386.49,174.07 L387.61,173.75 L388.72,173.42 L389.83,173.08 L390.95,172.74 L392.06,172.39 L393.17,172.03 L394.29,171.66 L395.40,171.28 L396.51,170.90 L397.63,170.51 L398.74,170.11 L399.85,169.70 L400.97,169.29 L402.08,168.87 L403.19,168.44 L404.31,168.00 L405.42,167.56 L406.53,167.10 L407.65,166.65 L408.76,166.18 L409.87,165.71 L410.99,165.23 L412.10,164.74 L413.21,164.25 L414.33,163.75 L415.44,163.25 L416.55,162.73 L417.66,162.21 L418.78,161.69 L419.89,161.16 L421.00,160.62 L422.12,160.08 L423.23,159.53 L424.34,158.97 L425.46,158.41 L426.57,157.84 L427.68,157.26 L428.80,156.69 L429.91,156.10 L431.02,155.51 L432.14,154.91 L433.25,154.31 L434.36,153.70 L435.48,153.09 L436.59,152.47 L437.70,151.85 L438.82,151.22 L439.93,150.59 L441.04,149.95 L442.16,149.31 L443.27,148.66 L444.38,148.01 L445.50,147.35 L446.61,146.69 L447.72,146.03 L448.84,145.36 L449.95,144.68 L451.06,144.00 L452.18,143.32 L453.29,142.63 L454.40,141.94 L455.52,141.25 L456.63,140.55 L457.74,139.84 L458.86,139.14 L459.97,138.43 L461.08,137.71 L462.19,136.99 L463.31,136.27 L464.42,135.55 L465.53,134.82 L466.65,134.09 L467.76,133.36 L468.87,132.62 L469.99,131.88 L471.10,131.13 L472.21,130.39 L473.33,129.64 L474.44,128.89 L475.55,128.13 L476.67,127.37 L477.78,126.61 L478.89,125.85 L480.01,125.09 L481.12,124.32 L482.23,123.55 L483.35,122.78 L484.46,122.00 L485.57,121.23 L486.69,120.45 L487.80,119.67 L488.91,118.88 L490.03,118.10 L491.14,117.31 L492.25,116.53 L493.37,115.74 L494.48,114.95 L495.59,114.16 L496.71,113.36 L497.82,112.57 L498.93,111.77 L500.05,110.97 L501.16,110.18 L502.27,109.38 L503.38,108.58 L504.50,107.78 L505.61,106.97 L506.72,106.17 L507.84,105.37 L508.95,104.57 L510.06,103.76 L511.18,102.96 L512.29,102.15 L513.40,101.35 L514.52,100.54 L515.63,99.74 L516.74,98.93 L517.86,98.13 L518.97,97.33 L520.08,96.52 L521.20,95.72 L522.31,94.92 L523.42,94.11 L524.54,93.31 L525.65,92.51 L526.76,91.71 L527.88,90.91 L528.99,90.12 L530.10,89.32 L531.22,88.53 L532.33,87.74 L533.44,86.94 L534.56,86.16 L535.67,85.37 L536.78,84.58 L537.90,83.80 L539.01,83.02 L540.12,82.24 L541.24,81.47 L542.35,80.69 L543.46,79.93 L544.58,79.16 L545.69,78.40 L546.80,77.64 L547.91,76.88 L549.03,76.13 L550.14,75.38 L551.25,74.64 L552.37,73.90 L553.48,73.16 L554.59,72.43 L555.71,71.71 L556.82,70.99 L557.93,70.28 L559.05,69.57 L560.16,68.86 L561.27,68.17 L562.39,67.48 L563.50,66.80 L564.61,66.12 L565.73,65.45 L566.84,64.79 L567.95,64.14 L569.07,63.49 L570.18,62.85 L571.29,62.22 L572.41,61.61 L573.52,61.00 L574.63,60.40 L575.75,59.81 L576.86,59.23 L577.97,58.66 L579.09,58.10 L580.20,57.55 L581.31,57.02 L582.43,56.50 L583.54,55.99 L584.65,55.49 L585.77,55.01 L586.88,54.54 L587.99,54.09 L589.11,53.65 L590.22,53.22 L591.33,52.81 L592.45,52.42 L593.56,52.04 L594.67,51.68 L595.78,51.34 L596.90,51.01 L598.01,50.70 L599.12,50.41 L600.24,50.14 L601.35,49.89 L602.46,49.65 L603.58,49.44 L604.69,49.24 L605.80,49.07 L606.92,48.91 L608.03,48.78 L609.14,48.66 L610.26,48.57 L611.37,48.49 L612.48,48.44 L613.60,48.41 L614.71,48.40" stroke="#ff0000" stroke-width="1.9" stroke-dasharray="6.85 6.86" stroke-linecap="square"/>
<path d="M80.35,142.70 L81.46,142.71 L82.58,142.72 L83.69,142.75 L84.80,142.79 L85.92,142.84 L87.03,142.90 L88.14,142.97 L89.26,143.06 L90.37,143.15 L91.48,143.26 L92.60,143.38 L93.71,143.50 L94.82,143.64 L95.94,143.79 L97.05,143.95 L98.16,144.13 L99.28,144.31 L100.39,144.50 L101.50,144.71 L102.61,144.92 L103.73,145.15 L104.84,145.38 L105.95,145.63 L107.07,145.89 L108.18,146.16 L109.29,146.43 L110.41,146.72 L111.52,147.02 L112.63,147.33 L113.75,147.65 L114.86,147.98 L115.97,148.32 L117.09,148.67 L118.20,149.03 L119.31,149.40 L120.43,149.78 L121.54,150.16 L122.65,150.56 L123.77,150.97 L124.88,151.39 L125.99,151.81 L127.11,152.25 L128.22,152.69 L129.33,153.15 L130.45,153.61 L131.56,154.08 L132.67,154.56 L133.79,155.05 L134.90,155.55 L136.01,156.06 L137.13,156.57 L138.24,157.09 L139.35,157.63 L140.47,158.17 L141.58,158.71 L142.69,159.27 L143.81,159.83 L144.92,160.41 L146.03,160.99 L147.14,161.57 L148.26,162.17 L149.37,162.77 L150.48,163.38 L151.60,164.00 L152.71,164.62 L153.82,165.25 L154.94,165.89 L156.05,166.54 L157.16,167.19 L158.28,167.85 L159.39,168.52 L160.50,169.19 L161.62,169.87 L162.73,170.56 L163.84,171.25 L164.96,171.95 L166.07,172.65 L167.18,173.37 L168.30,174.08 L169.41,174.81 L170.52,175.54 L171.64,176.27 L172.75,177.01 L173.86,177.76 L174.98,178.51 L176.09,179.27 L177.20,180.03 L178.32,180.80 L179.43,181.58 L180.54,182.36 L181.66,183.14 L182.77,183.93 L183.88,184.73 L185.00,185.53 L186.11,186.33 L187.22,187.14 L188.34,187.95 L189.45,188.77 L190.56,189.60 L191.68,190.42 L192.79,191.26 L193.90,192.09 L195.01,192.94 L196.13,193.78 L197.24,194.63 L198.35,195.49 L199.47,196.34 L200.58,197.21 L201.69,198.07 L202.81,198.94 L203.92,199.82 L205.03,200.69 L206.15,201.58 L207.26,202.46 L208.37,203.35 L209.49,204.24 L210.60,205.14 L211.71,206.04 L212.83,206.94 L213.94,207.85 L215.05,208.76 L216.17,209.67 L217.28,210.59 L218.39,211.51 L219.51,212.43 L220.62,213.36 L221.73,214.29 L222.85,215.22 L223.96,216.15 L225.07,217.09 L226.19,218.03 L227.30,218.97 L228.41,219.92 L229.53,220.87 L230.64,221.82 L231.75,222.78 L232.87,223.73 L233.98,224.69 L235.09,225.65 L236.21,226.62 L237.32,227.58 L238.43,228.55 L239.54,229.52 L240.66,230.50 L241.77,231.47 L242.88,232.45 L244.00,233.43 L245.11,234.42 L246.22,235.40 L247.34,236.39 L248.45,237.38 L249.56,238.37 L250.68,239.36 L251.79,240.35 L252.90,241.35 L254.02,242.35 L255.13,243.35 L256.24,244.35 L257.36,245.35 L258.47,246.36 L259.58,247.37 L260.70,248.38 L261.81,249.39 L262.92,250.40 L264.04,251.41 L265.15,252.43 L266.26,253.44 L267.38,254.46 L268.49,255.48 L269.60,256.50 L270.72,257.53 L271.83,258.55 L272.94,259.57 L274.06,260.60 L275.17,261.63 L276.28,262.66 L277.40,263.69 L278.51,264.72 L279.62,265.75 L280.74,266.78 L281.85,267.82 L282.96,268.85 L284.07,269.89 L285.19,270.92 L286.30,271.96 L287.41,273.00 L288.53,274.04 L289.64,275.08 L290.75,276.12 L291.87,277.16 L292.98,278.21 L294.09,279.25 L295.21,280.29 L296.32,281.34 L297.43,282.38 L298.55,283.43 L299.66,284.47 L300.77,285.52 L301.89,286.56 L303.00,287.61 L304.11,288.65 L305.23,289.70 L306.34,290.75 L307.45,291.79 L308.57,292.84 L309.68,293.89 L310.79,294.93 L311.91,295.98 L313.02,297.02 L314.13,298.06 L315.25,299.11 L316.36,300.15 L317.47,301.19 L318.59,302.23 L319.70,303.27 L320.81,304.30 L321.93,305.34 L323.04,306.37 L324.15,307.39 L325.26,308.42 L326.38,309.44 L327.49,310.45 L328.60,311.46 L329.72,312.46 L330.83,313.46 L331.94,314.45 L333.06,315.42 L334.17,316.38 L335.28,317.32 L336.40,318.25 L337.51,319.15 L338.62,320.01 L339.74,320.84 L340.85,321.62 L341.96,322.33 L343.08,322.96 L344.19,323.49 L345.30,323.89 L346.42,324.14 L347.53,324.23 L348.64,324.14 L349.76,323.89 L350.87,323.49 L351.98,322.96 L353.10,322.33 L354.21,321.62 L355.32,320.84 L356.44,320.01 L357.55,319.15 L358.66,318.25 L359.78,317.32 L360.89,316.38 L362.00,315.42 L363.12,314.45 L364.23,313.46 L365.34,312.46 L366.46,311.46 L367.57,310.45 L368.68,309.44 L369.79,308.42 L370.91,307.39 L372.02,306.37 L373.13,305.34 L374.25,304.30 L375.36,303.27 L376.47,302.23 L377.59,301.19 L378.70,300.15 L379.81,299.11 L380.93,298.06 L382.04,297.02 L383.15,295.98 L384.27,294.93 L385.38,293.89 L386.49,292.84 L387.61,291.79 L388.72,290.75 L389.83,289.70 L390.95,288.65 L392.06,287.61 L393.17,286.56 L394.29,285.52 L395.40,284.47 L396.51,283.43 L397.63,282.38 L398.74,281.34 L399.85,280.29 L400.97,279.25 L402.08,278.21 L403.19,277.16 L404.31,276.12 L405.42,275.08 L406.53,274.04 L407.65,273.00 L408.76,271.96 L409.87,270.92 L410.99,269.89 L412.10,268.85 L413.21,267.82 L414.33,266.78 L415.44,265.75 L416.55,264.72 L417.66,263.69 L418.78,262.66 L419.89,261.63 L421.00,260.60 L422.12,259.57 L423.23,258.55 L424.34,257.53 L425.46,256.50 L426.57,255.48 L427.68,254.46 L428.80,253.44 L429.91,252.43 L431.02,251.41 L432.14,250.40 L433.25,249.39 L434.36,248.38 L435.48,247.37 L436.59,246.36 L437.70,245.35 L438.82,244.35 L439.93,243.35 L441.04,242.35 L442.16,241.35 L443.27,240.35 L444.38,239.36 L445.50,238.37 L446.61,237.38 L447.72,236.39 L448.84,235.40 L449.95,234.42 L451.06,233.43 L452.18,232.45 L453.29,231.47 L454.40,230.50 L455.52,229.52 L456.63,228.55 L457.74,227.58 L458.86,226.62 L459.97,225.65 L461.08,224.69 L462.19,223.73 L463.31,222.78 L464.42,221.82 L465.53,220.87 L466.65,219.92 L467.76,218.97 L468.87,218.03 L469.99,217.09 L471.10,216.15 L472.21,215.22 L473.33,214.29 L474.44,213.36 L475.55,212.43 L476.67,211.51 L477.78,210.59 L478.89,209.67 L480.01,208.76 L481.12,207.85 L482.23,206.94 L483.35,206.04 L484.46,205.14 L485.57,204.24 L486.69,203.35 L487.80,202.46 L488.91,201.58 L490.03,200.69 L491.14,199.82 L492.25,198.94 L493.37,198.07 L494.48,197.21 L495.59,196.34 L496.71,195.49 L497.82,194.63 L498.93,193.78 L500.05,192.94 L501.16,192.09 L502.27,191.26 L503.38,190.42 L504.50,189.60 L505.61,188.77 L506.72,187.95 L507.84,187.14 L508.95,186.33 L510.06,185.53 L511.18,184.73 L512.29,183.93 L513.40,183.14 L514.52,182.36 L515.63,181.58 L516.74,180.80 L517.86,180.03 L518.97,179.27 L520.08,178.51 L521.20,177.76 L522.31,177.01 L523.42,176.27 L524.54,175.54 L525.65,174.81 L526.76,174.08 L527.88,173.37 L528.99,172.65 L530.10,171.95 L531.22,171.25 L532.33,170.56 L533.44,169.87 L534.56,169.19 L535.67,168.52 L536.78,167.85 L537.90,167.19 L539.01,166.54 L540.12,165.89 L541.24,165.25 L542.35,164.62 L543.46,164.00 L544.58,163.38 L545.69,162.77 L546.80,162.17 L547.91,161.57 L549.03,160.99 L550.14,160.41 L551.25,159.83 L552.37,159.27 L553.48,158.71 L554.59,158.17 L555.71,157.63 L556.82,157.09 L557.93,156.57 L559.05,156.06 L560.16,155.55 L561.27,155.05 L562.39,154.56 L563.50,154.08 L564.61,153.61 L565.73,153.15 L566.84,152.69 L567.95,152.25 L569.07,151.81 L570.18,151.39 L571.29,150.97 L572.41,150.56 L573.52,150.16 L574.63,149.78 L575.75,149.40 L576.86,149.03 L577.97,148.67 L579.09,148.32 L580.20,147.98 L581.31,147.65 L582.43,147.33 L583.54,147.02 L584.65,146.72 L585.77,146.43 L586.88,146.16 L587.99,145.89 L589.11,145.63 L590.22,145.38 L591.33,145.15 L592.45,144.92 L593.56,144.71 L594.67,144.50 L595.78,144.31 L596.90,144.13 L598.01,143.95 L599.12,143.79 L600.24,143.64 L601.35,143.50 L602.46,143.38 L603.58,143.26 L604.69,143.15 L605.80,143.06 L606.92,142.97 L608.03,142.90 L609.14,142.84 L610.26,142.79 L611.37,142.75 L612.48,142.72 L613.60,142.71 L614.71,142.70" stroke="#800080" stroke-width="1.9" stroke-linecap="square"/>
<path d="M80.35,167.90 L81.46,167.90 L82.58,167.92 L83.69,167.94 L84.80,167.97 L85.92,168.01 L87.03,168.05 L88.14,168.11 L89.26,168.17 L90.37,168.24 L91.48,168.32 L92.60,168.41 L93.71,168.50 L94.82,168.61 L95.94,168.72 L97.05,168.84 L98.16,168.97 L99.28,169.11 L100.39,169.26 L101.50,169.41 L102.61,169.57 L103.73,169.74 L104.84,169.92 L105.95,170.11 L107.07,170.30 L108.18,170.50 L109.29,170.71 L110.41,170.93 L111.52,171.16 L112.63,171.39 L113.75,171.64 L114.86,171.89 L115.97,172.14 L117.09,172.41 L118.20,172.68 L119.31,172.96 L120.43,173.25 L121.54,173.55 L122.65,173.85 L123.77,174.16 L124.88,174.48 L125.99,174.81 L127.11,175.14 L128.22,175.48 L129.33,175.83 L130.45,176.18 L131.56,176.54 L132.67,176.91 L133.79,177.29 L134.90,177.67 L136.01,178.06 L137.13,178.46 L138.24,178.86 L139.35,179.27 L140.47,179.69 L141.58,180.12 L142.69,180.55 L143.81,180.98 L144.92,181.43 L146.03,181.88 L147.14,182.33 L148.26,182.80 L149.37,183.27 L150.48,183.74 L151.60,184.22 L152.71,184.71 L153.82,185.21 L154.94,185.71 L156.05,186.21 L157.16,186.72 L158.28,187.24 L159.39,187.76 L160.50,188.29 L161.62,188.83 L162.73,189.37 L163.84,189.91 L164.96,190.46 L166.07,191.02 L167.18,191.58 L168.30,192.15 L169.41,192.72 L170.52,193.30 L171.64,193.88 L172.75,194.47 L173.86,195.06 L174.98,195.66 L176.09,196.26 L177.20,196.87 L178.32,197.48 L179.43,198.10 L180.54,198.72 L181.66,199.35 L182.77,199.98 L183.88,200.61 L185.00,201.25 L186.11,201.90 L187.22,202.55 L188.34,203.20 L189.45,203.86 L190.56,204.52 L191.68,205.18 L192.79,205.85 L193.90,206.52 L195.01,207.20 L196.13,207.88 L197.24,208.56 L198.35,209.25 L199.47,209.94 L200.58,210.64 L201.69,211.34 L202.81,212.04 L203.92,212.75 L205.03,213.46 L206.15,214.17 L207.26,214.89 L208.37,215.60 L209.49,216.33 L210.60,217.05 L211.71,217.78 L212.83,218.51 L213.94,219.25 L215.05,219.98 L216.17,220.72 L217.28,221.47 L218.39,222.21 L219.51,222.96 L220.62,223.71 L221.73,224.46 L222.85,225.22 L223.96,225.98 L225.07,226.74 L226.19,227.50 L227.30,228.27 L228.41,229.03 L229.53,229.80 L230.64,230.58 L231.75,231.35 L232.87,232.13 L233.98,232.90 L235.09,233.68 L236.21,234.46 L237.32,235.25 L238.43,236.03 L239.54,236.82 L240.66,237.60 L241.77,238.39 L242.88,239.18 L244.00,239.98 L245.11,240.77 L246.22,241.56 L247.34,242.36 L248.45,243.16 L249.56,243.95 L250.68,244.75 L251.79,245.55 L252.90,246.35 L254.02,247.15 L255.13,247.95 L256.24,248.76 L257.36,249.56 L258.47,250.36 L259.58,251.16 L260.70,251.97 L261.81,252.77 L262.92,253.58 L264.04,254.38 L265.15,255.18 L266.26,255.99 L267.38,256.79 L268.49,257.59 L269.60,258.39 L270.72,259.20 L271.83,260.00 L272.94,260.80 L274.06,261.59 L275.17,262.39 L276.28,263.19 L277.40,263.98 L278.51,264.78 L279.62,265.57 L280.74,266.36 L281.85,267.15 L282.96,267.93 L284.07,268.72 L285.19,269.50 L286.30,270.28 L287.41,271.06 L288.53,271.83 L289.64,272.60 L290.75,273.37 L291.87,274.13 L292.98,274.89 L294.09,275.65 L295.21,276.40 L296.32,277.14 L297.43,277.89 L298.55,278.62 L299.66,279.35 L300.77,280.08 L301.89,280.80 L303.00,281.51 L304.11,282.22 L305.23,282.92 L306.34,283.61 L307.45,284.30 L308.57,284.98 L309.68,285.64 L310.79,286.30 L311.91,286.95 L313.02,287.59 L314.13,288.22 L315.25,288.84 L316.36,289.45 L317.47,290.04 L318.59,290.62 L319.70,291.19 L320.81,291.74 L321.93,292.28 L323.04,292.80 L324.15,293.31 L325.26,293.80 L326.38,294.28 L327.49,294.73 L328.60,295.17 L329.72,295.58 L330.83,295.98 L331.94,296.35 L333.06,296.70 L334.17,297.03 L335.28,297.34 L336.40,297.62 L337.51,297.88 L338.62,298.11 L339.74,298.32 L340.85,298.50 L341.96,298.65 L343.08,298.78 L344.19,298.87 L345.30,298.94 L346.42,298.99 L347.53,299.00 L348.64,298.99 L349.76,298.94 L350.87,298.87 L351.98,298.78 L353.10,298.65 L354.21,298.50 L355.32,298.32 L356.44,298.11 L357.55,297.88 L358.66,297.62 L359.78,297.34 L360.89,297.03 L362.00,296.70 L363.12,296.35 L364.23,295.98 L365.34,295.58 L366.46,295.17 L367.57,294.73 L368.68,294.28 L369.79,293.80 L370.91,293.31 L372.02,292.80 L373.13,292.28 L374.25,291.74 L375.36,291.19 L376.47,290.62 L377.59,290.04 L378.70,289.45 L379.81,288.84 L380.93,288.22 L382.04,287.59 L383.15,286.95 L384.27,286.30 L385.38,285.64 L386.49,284.98 L387.61,284.30 L388.72,283.61 L389.83,282.92 L390.95,282.22 L392.06,281.51 L393.17,280.80 L394.29,280.08 L395.40,279.35 L396.51,278.62 L397.63,277.89 L398.74,277.14 L399.85,276.40 L400.97,275.65 L402.08,274.89 L403.19,274.13 L404.31,273.37 L405.42,272.60 L406.53,271.83 L407.65,271.06 L408.76,270.28 L409.87,269.50 L410.99,268.72 L412.10,267.93 L413.21,267.15 L414.33,266.36 L415.44,265.57 L416.55,264.78 L417.66,263.98 L418.78,263.19 L419.89,262.39 L421.00,261.59 L422.12,260.80 L423.23,260.00 L424.34,259.20 L425.46,258.39 L426.57,257.59 L427.68,256.79 L428.80,255.99 L429.91,255.18 L431.02,254.38 L432.14,253.58 L433.25,252.77 L434.36,251.97 L435.48,251.16 L436.59,250.36 L437.70,249.56 L438.82,248.76 L439.93,247.95 L441.04,247.15 L442.16,246.35 L443.27,245.55 L444.38,244.75 L445.50,243.95 L446.61,243.16 L447.72,242.36 L448.84,241.56 L449.95,240.77 L451.06,239.98 L452.18,239.18 L453.29,238.39 L454.40,237.60 L455.52,236.82 L456.63,236.03 L457.74,235.25 L458.86,234.46 L459.97,233.68 L461.08,232.90 L462.19,232.13 L463.31,231.35 L464.42,230.58 L465.53,229.80 L466.65,229.03 L467.76,228.27 L468.87,227.50 L469.99,226.74 L471.10,225.98 L472.21,225.22 L473.33,224.46 L474.44,223.71 L475.55,222.96 L476.67,222.21 L477.78,221.47 L478.89,220.72 L480.01,219.98 L481.12,219.25 L482.23,218.51 L483.35,217.78 L484.46,217.05 L485.57,216.33 L486.69,215.60 L487.80,214.89 L488.91,214.17 L490.03,213.46 L491.14,212.75 L492.25,212.04 L493.37,211.34 L494.48,210.64 L495.59,209.94 L496.71,209.25 L497.82,208.56 L498.93,207.88 L500.05,207.20 L501.16,206.52 L502.27,205.85 L503.38,205.18 L504.50,204.52 L505.61,203.86 L506.72,203.20 L507.84,202.55 L508.95,201.90 L510.06,201.25 L511.18,200.61 L512.29,199.98 L513.40,199.35 L514.52,198.72 L515.63,198.10 L516.74,197.48 L517.86,196.87 L518.97,196.26 L520.08,195.66 L521.20,195.06 L522.31,194.47 L523.42,193.88 L524.54,193.30 L525.65,192.72 L526.76,192.15 L527.88,191.58 L528.99,191.02 L530.10,190.46 L531.22,189.91 L532.33,189.37 L533.44,188.83 L534.56,188.29 L535.67,187.76 L536.78,187.24 L537.90,186.72 L539.01,186.21 L540.12,185.71 L541.24,185.21 L542.35,184.71 L543.46,184.22 L544.58,183.74 L545.69,183.27 L546.80,182.80 L547.91,182.33 L549.03,181.88 L550.14,181.43 L551.25,180.98 L552.37,180.55 L553.48,180.12 L554.59,179.69 L555.71,179.27 L556.82,178.86 L557.93,178.46 L559.05,178.06 L560.16,177.67 L561.27,177.29 L562.39,176.91 L563.50,176.54 L564.61,176.18 L565.73,175.83 L566.84,175.48 L567.95,175.14 L569.07,174.81 L570.18,174.48 L571.29,174.16 L572.41,173.85 L573.52,173.55 L574.63,173.25 L575.75,172.96 L576.86,172.68 L577.97,172.41 L579.09,172.14 L580.20,171.89 L581.31,171.64 L582.43,171.39 L583.54,171.16 L584.65,170.93 L585.77,170.71 L586.88,170.50 L587.99,170.30 L589.11,170.11 L590.22,169.92 L591.33,169.74 L592.45,169.57 L593.56,169.41 L594.67,169.26 L595.78,169.11 L596.90,168.97 L598.01,168.84 L599.12,168.72 L600.24,168.61 L601.35,168.50 L602.46,168.41 L603.58,168.32 L604.69,168.24 L605.80,168.17 L606.92,168.11 L608.03,168.05 L609.14,168.01 L610.26,167.97 L611.37,167.94 L612.48,167.92 L613.60,167.90 L614.71,167.90" stroke="#800080" stroke-width="1.9" stroke-dasharray="6.85 6.86" stroke-linecap="square"/>
<path d="M80.35,165.20 L614.71,165.20" stroke="#747474" stroke-width="1.9" stroke-dasharray="1.5 7.067" stroke-linecap="square"/>
</g>
<g stroke="#000" stroke-width="0.6" fill="none">
<path d="M80.5,-0.05 L80.5,330.5 M614.8,-0.05 L614.8,330.5 M80.0,330.5 L615.3,330.5 M80.0,-0.05 L615.3,-0.05"/>
<path d="M80.50,330.5 L80.50,324.3 M80.50,-0.05 L80.50,6.15 M102.61,330.5 L102.61,327.1 M102.61,-0.05 L102.61,3.35 M125.08,330.5 L125.08,327.1 M125.08,-0.05 L125.08,3.35 M147.49,330.5 L147.49,327.1 M147.49,-0.05 L147.49,3.35 M169.41,330.5 L169.41,327.1 M169.41,-0.05 L169.41,3.35 M191.68,330.5 L191.68,324.3 M191.68,-0.05 L191.68,6.15 M214.19,330.5 L214.19,327.1 M214.19,-0.05 L214.19,3.35 M236.21,330.5 L236.21,327.1 M236.21,-0.05 L236.21,3.35 M258.47,330.5 L258.47,327.1 M258.47,-0.05 L258.47,3.35 M280.74,330.5 L280.74,327.1 M280.74,-0.05 L280.74,3.35 M303.45,330.5 L303.45,324.3 M303.45,-0.05 L303.45,6.15 M325.51,330.5 L325.51,327.1 M325.51,-0.05 L325.51,3.35 M347.53,330.5 L347.53,327.1 M347.53,-0.05 L347.53,3.35 M369.79,330.5 L369.79,327.1 M369.79,-0.05 L369.79,3.35 M392.31,330.5 L392.31,327.1 M392.31,-0.05 L392.31,3.35 M414.33,330.5 L414.33,324.3 M414.33,-0.05 L414.33,6.15 M436.59,330.5 L436.59,327.1 M436.59,-0.05 L436.59,3.35 M458.86,330.5 L458.86,327.1 M458.86,-0.05 L458.86,3.35 M481.12,330.5 L481.12,327.1 M481.12,-0.05 L481.12,3.35 M503.38,330.5 L503.38,327.1 M503.38,-0.05 L503.38,3.35 M525.65,330.5 L525.65,324.3 M525.65,-0.05 L525.65,6.15 M547.91,330.5 L547.91,327.1 M547.91,-0.05 L547.91,3.35 M570.18,330.5 L570.18,327.1 M570.18,-0.05 L570.18,3.35 M592.45,330.5 L592.45,327.1 M592.45,-0.05 L592.45,3.35 M614.80,330.5 L614.80,327.1 M614.80,-0.05 L614.80,3.35 M80.5,330.50 L86.7,330.50 M614.8,330.50 L608.5999999999999,330.50 M80.5,312.44 L83.9,312.44 M614.8,312.44 L611.4,312.44 M80.5,294.05 L83.9,294.05 M614.8,294.05 L611.4,294.05 M80.5,275.66 L83.9,275.66 M614.8,275.66 L611.4,275.66 M80.5,257.28 L83.9,257.28 M614.8,257.28 L611.4,257.28 M80.5,238.89 L86.7,238.89 M614.8,238.89 L608.5999999999999,238.89 M80.5,220.51 L83.9,220.51 M614.8,220.51 L611.4,220.51 M80.5,202.12 L83.9,202.12 M614.8,202.12 L611.4,202.12 M80.5,183.74 L83.9,183.74 M614.8,183.74 L611.4,183.74 M80.5,165.35 L83.9,165.35 M614.8,165.35 L611.4,165.35 M80.5,146.97 L86.7,146.97 M614.8,146.97 L608.5999999999999,146.97 M80.5,128.58 L83.9,128.58 M614.8,128.58 L611.4,128.58 M80.5,110.20 L83.9,110.20 M614.8,110.20 L611.4,110.20 M80.5,91.81 L83.9,91.81 M614.8,91.81 L611.4,91.81 M80.5,73.43 L83.9,73.43 M614.8,73.43 L611.4,73.43 M80.5,55.05 L86.7,55.05 M614.8,55.05 L608.5999999999999,55.05 M80.5,36.66 L83.9,36.66 M614.8,36.66 L611.4,36.66 M80.5,18.27 L83.9,18.27 M614.8,18.27 L611.4,18.27 M80.5,-0.05 L83.9,-0.05 M614.8,-0.05 L611.4,-0.05"/>
</g>
<text x="74.4" y="358.3">0</text>
<text x="186.2" y="358.3">5</text>
<text x="290.5 302.5" y="358.3">10</text>
<text x="402.2 413.8" y="358.3">15</text>
<text x="514.2 525.5" y="358.3">20</text>
<text x="61.5" y="339.9">0</text>
<text x="49.2 61.3" y="247.3">50</text>
<text x="37.5 49.5 61.4" y="156.0">100</text>
<text x="37.5 49.4 61.3" y="64.2">150</text>
<text class="lab" x="304.6 314 319.6 330.1 341.5 354.3 365.3 372.9 383.3" y="395.7" xml:space="preserve">t [hours]</text>
<g transform="translate(22.8,189.9) rotate(-89.9)"><text class="lab" style="font-size:19.5px" x="0" y="0" font-style="italic">θ</text><text class="lab" x="21.0" y="0">[</text><text class="lab" x="30.5" y="-0.8">°</text><text class="lab" x="40.3" y="0">]</text></g>
</svg></body></html>
